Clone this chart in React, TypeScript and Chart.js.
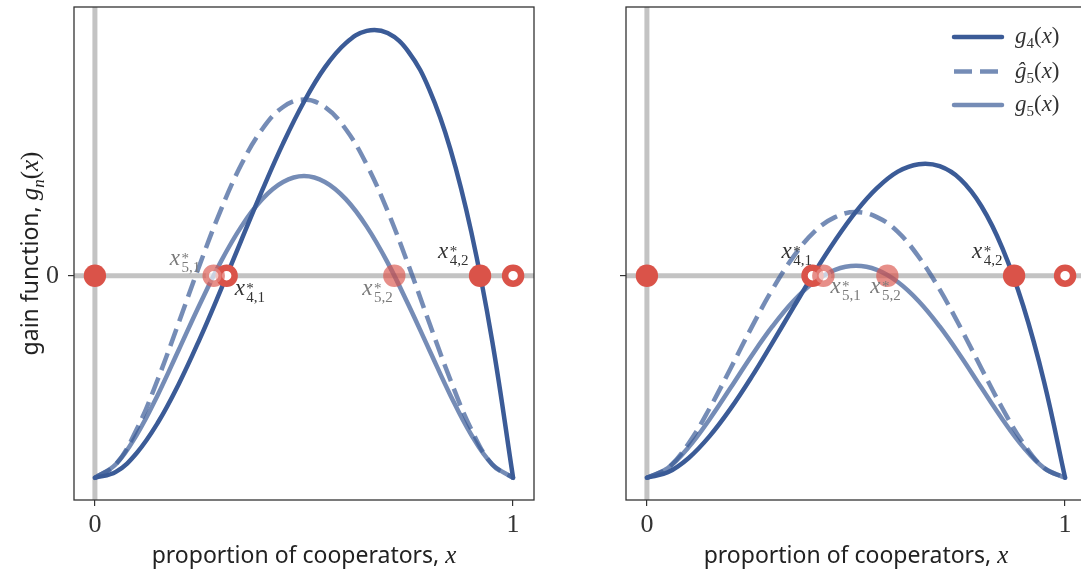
import React, { useEffect, useRef } from "react";
import { Chart, registerables } from "chart.js";

Chart.register(...registerables);

// ---------------- data ----------------
const xGrid = [0, 0.05, 0.1, 0.15, 0.2, 0.25, 0.3, 0.35, 0.4, 0.45, 0.5, 0.55, 0.6, 0.65, 0.7, 0.75, 0.8, 0.85, 0.9, 0.95, 1];

const leftG4 = [-1, -0.971, -0.877, -0.729, -0.538, -0.316, -0.075, 0.175, 0.422, 0.655, 0.861, 1.031, 1.151, 1.212, 1.201, 1.108, 0.92, 0.627, 0.217, -0.322, -1];
const leftG5hat = [-1, -0.934, -0.76, -0.515, -0.235, 0.051, 0.32, 0.55, 0.725, 0.835, 0.872, 0.835, 0.725, 0.55, 0.32, 0.051, -0.235, -0.515, -0.76, -0.934, -1];
const leftG5 = [-1, -0.933, -0.787, -0.591, -0.369, -0.145, 0.065, 0.243, 0.379, 0.464, 0.493, 0.464, 0.379, 0.243, 0.065, -0.145, -0.369, -0.591, -0.787, -0.933, -1];

const rightG4 = [-1, -0.973, -0.902, -0.794, -0.658, -0.502, -0.332, -0.158, 0.014, 0.174, 0.317, 0.433, 0.515, 0.552, 0.542, 0.477, 0.344, 0.137, -0.15, -0.527, -1];
const rightG5hat = [-1, -0.952, -0.829, -0.656, -0.459, -0.257, -0.068, 0.093, 0.217, 0.29, 0.315, 0.29, 0.217, 0.093, -0.068, -0.257, -0.459, -0.656, -0.829, -0.952, -1];
const rightG5 = [-1, -0.952, -0.848, -0.71, -0.555, -0.397, -0.251, -0.126, -0.031, 0.029, 0.049, 0.029, -0.031, -0.126, -0.251, -0.397, -0.555, -0.71, -0.848, -0.952, -1];

// fixed points (all on g = 0)
const leftStable4 = [0, 0.921];
const leftUnstable4 = [0.315, 1];
const leftStable5 = [0.716];
const leftUnstable5 = [0.284];

const rightStable4 = [0, 0.878];
const rightUnstable4 = [0.396, 1];
const rightStable5 = [0.575];
const rightUnstable5 = [0.422];

// fixed-point annotation names (n, index)
const leftLabelNames = ["5,1", "4,1", "5,2", "4,2"];
const rightLabelNames = ["4,1", "5,1", "5,2", "4,2"];

const xTickValues = [0, 1];
const xTickLabels = ["0", "1"];
const yTickValues = [0];
const yTickLabels = ["0"];

const legendNames = [
  { base: "g", sub: "4" },
  { base: "\u011D", sub: "5" },
  { base: "g", sub: "5" },
];

const xTitleWords = "proportion of cooperators, ";
const xTitleVar = "x";
const yTitleWords = "gain function, ";

// ---------------- styles ----------------
const SERIF = '"Liberation Serif", "DejaVu Serif", serif';
const SANS = '"Noto Sans", "DejaVu Sans", sans-serif';
const BLUE = "rgb(59, 91, 151)";
const BLUE_A = "rgba(59, 91, 151, 0.7)";
const RED = "rgb(218, 83, 73)";
const RED_A = "rgba(218, 83, 73, 0.65)";
const WHITE_A = "rgba(255, 255, 255, 0.65)";
const AXIS_GRAY = "#c3c3c3";
const INK = "#333333";
const DASH = [18, 8];

const CANVAS_W = 560;
const CANVAS_H = 574;

type Run = { t: string; font: string; dy?: number };

function runsWidth(ctx: CanvasRenderingContext2D, runs: Run[]) {
  let w = 0;
  for (const r of runs) {
    ctx.font = r.font;
    w += ctx.measureText(r.t).width;
  }
  return w;
}

function drawRuns(ctx: CanvasRenderingContext2D, runs: Run[], x: number, y: number) {
  let cx = x;
  for (const r of runs) {
    ctx.font = r.font;
    ctx.fillText(r.t, cx, y + (r.dy || 0));
    cx += ctx.measureText(r.t).width;
  }
}

function mathFn(base: string, sub: string, size: number, subSize: number, subItalic: boolean): Run[] {
  return [
    { t: base, font: `italic ${size}px ${SERIF}` },
    { t: sub, font: `${subItalic ? "italic " : ""}${subSize}px ${SERIF}`, dy: size * 0.22 },
    { t: "(", font: `${size}px ${SERIF}` },
    { t: "x", font: `italic ${size}px ${SERIF}` },
    { t: ")", font: `${size}px ${SERIF}` },
  ];
}

function drawStarLabel(ctx: CanvasRenderingContext2D, x: number, y: number, sub: string, color: string) {
  ctx.fillStyle = color;
  ctx.textAlign = "left";
  ctx.textBaseline = "alphabetic";
  ctx.font = `italic 23px ${SERIF}`;
  ctx.fillText("x", x, y);
  const w = ctx.measureText("x").width + 1.5;
  ctx.font = `15px ${SERIF}`;
  ctx.fillText("*", x + w, y - 2);
  ctx.fillText(sub, x + w, y + 7);
}

type Panel = {
  g4: number[];
  g5hat: number[];
  g5: number[];
  stable4: number[];
  unstable4: number[];
  stable5: number[];
  unstable5: number[];
  labels: { at: number; sub: string; faded: boolean }[];
  labelOffsets: number[][];
  yTitle: boolean;
  yTickText: boolean;
  legend: boolean;
};

const leftPanel: Panel = {
  g4: leftG4,
  g5hat: leftG5hat,
  g5: leftG5,
  stable4: leftStable4,
  unstable4: leftUnstable4,
  stable5: leftStable5,
  unstable5: leftUnstable5,
  labels: [
    { at: leftUnstable5[0], sub: leftLabelNames[0], faded: true },
    { at: leftUnstable4[0], sub: leftLabelNames[1], faded: false },
    { at: leftStable5[0], sub: leftLabelNames[2], faded: true },
    { at: leftStable4[1], sub: leftLabelNames[3], faded: false },
  ],
  labelOffsets: [[-44, -11], [8, 19], [-32, 19], [-42, -18]],
  yTitle: true,
  yTickText: true,
  legend: false,
};

const rightPanel: Panel = {
  g4: rightG4,
  g5hat: rightG5hat,
  g5: rightG5,
  stable4: rightStable4,
  unstable4: rightUnstable4,
  stable5: rightStable5,
  unstable5: rightUnstable5,
  labels: [
    { at: rightUnstable4[0], sub: rightLabelNames[0], faded: false },
    { at: rightUnstable5[0], sub: rightLabelNames[1], faded: true },
    { at: rightStable5[0], sub: rightLabelNames[2], faded: true },
    { at: rightStable4[1], sub: rightLabelNames[3], faded: false },
  ],
  labelOffsets: [[-31, -18], [7, 17], [-17, 17], [-42, -18]],
  yTitle: false,
  yTickText: false,
  legend: true,
};

function curve(values: number[]) {
  return xGrid.map((x, i) => ({ x, y: values[i] }));
}
function onZero(xs: number[]) {
  return xs.map((x) => ({ x, y: 0 }));
}

function makeConfig(p: Panel): any {
  const decor = {
    id: "decor",
    beforeDatasetsDraw(chart: any) {
      const { ctx, chartArea: a, scales } = chart;
      const x0 = scales.x.getPixelForValue(0);
      const y0 = scales.y.getPixelForValue(0);
      ctx.save();
      ctx.beginPath();
      ctx.rect(a.left, a.top, a.right - a.left, a.bottom - a.top);
      ctx.clip();
      ctx.strokeStyle = AXIS_GRAY;
      ctx.lineWidth = 5;
      ctx.beginPath();
      ctx.moveTo(x0, a.top);
      ctx.lineTo(x0, a.bottom);
      ctx.moveTo(a.left, y0);
      ctx.lineTo(a.right, y0);
      ctx.stroke();
      ctx.restore();
    },
    afterDatasetsDraw(chart: any) {
      const { ctx, chartArea: a, scales } = chart;
      ctx.save();
      const y0 = scales.y.getPixelForValue(0);
      p.labels.forEach((l, i) => {
        const px = scales.x.getPixelForValue(l.at);
        const [dx, dy] = p.labelOffsets[i];
        drawStarLabel(ctx, px + dx, y0 + dy, l.sub, l.faded ? "#7a7a7a" : INK);
      });
      ctx.strokeStyle = INK;
      ctx.lineWidth = 1.3;
      ctx.strokeRect(a.left, a.top, a.right - a.left, a.bottom - a.top);
      if (p.legend) {
        const rowsY = [a.top + 30, a.top + 64.5, a.top + 98];
        legendNames.forEach((n, i) => {
          const y = rowsY[i];
          ctx.beginPath();
          ctx.lineWidth = 4.5;
          if (i === 1) {
            ctx.strokeStyle = BLUE_A;
            ctx.setLineDash(DASH);
            ctx.lineCap = "butt";
          } else {
            ctx.strokeStyle = i === 0 ? BLUE : BLUE_A;
            ctx.setLineDash([]);
            ctx.lineCap = "round";
          }
          ctx.moveTo(a.right - 132, y);
          ctx.lineTo(a.right - 84, y);
          ctx.stroke();
          ctx.setLineDash([]);
          ctx.fillStyle = INK;
          ctx.textAlign = "left";
          ctx.textBaseline = "alphabetic";
          drawRuns(ctx, mathFn(n.base, n.sub, 23, 15, false), a.right - 71, y + 6);
        });
      }
      ctx.restore();
    },
    afterDraw(chart: any) {
      const { ctx, chartArea: a } = chart;
      ctx.save();
      ctx.fillStyle = "#222";
      ctx.textAlign = "left";
      ctx.textBaseline = "alphabetic";
      const xRuns: Run[] = [
        { t: xTitleWords, font: `23px ${SANS}` },
        { t: xTitleVar, font: `italic 25px ${SERIF}` },
      ];
      const cx = (a.left + a.right) / 2;
      drawRuns(ctx, xRuns, cx - runsWidth(ctx, xRuns) / 2, 563);
      if (p.yTitle) {
        const yRuns: Run[] = [{ t: yTitleWords, font: `23px ${SANS}` }, ...mathFn("g", "n", 25, 17, true)];
        const cy = (a.top + a.bottom) / 2;
        ctx.translate(38, cy);
        ctx.rotate(-Math.PI / 2);
        drawRuns(ctx, yRuns, -runsWidth(ctx, yRuns) / 2, 0);
      }
      ctx.restore();
    },
  };

  const lineDs = (label: string, values: number[], color: string, dashed: boolean, order: number) => ({
    type: "line",
    label,
    data: curve(values),
    borderColor: color,
    borderWidth: 4.5,
    borderDash: dashed ? DASH : [],
    borderCapStyle: dashed ? "butt" : "round",
    borderJoinStyle: "round",
    pointRadius: 0,
    tension: 0.4,
    fill: false,
    order,
  });

  const ptDs = (xs: number[], open: boolean, faded: boolean, order: number) => ({
    type: "scatter",
    data: onZero(xs),
    pointRadius: open ? 8 : 11.2,
    pointHoverRadius: open ? 8 : 11.2,
    pointBackgroundColor: open ? (faded ? WHITE_A : "#ffffff") : faded ? RED_A : RED,
    pointBorderColor: faded ? RED_A : RED,
    pointBorderWidth: open ? 6.5 : 0,
    order,
  });

  return {
    type: "line",
    data: {
      datasets: [
        ptDs(p.stable5, false, true, 0),
        ptDs(p.unstable5, true, true, 0),
        ptDs(p.stable4, false, false, 1),
        ptDs(p.unstable4, true, false, 1),
        lineDs("g5", p.g5, BLUE_A, false, 5),
        lineDs("g5hat", p.g5hat, BLUE_A, true, 6),
        lineDs("g4", p.g4, BLUE, false, 7),
      ],
    },
    options: {
      responsive: false,
      maintainAspectRatio: false,
      animation: false,
      devicePixelRatio: 1,
      events: [],
      layout: { autoPadding: false, padding: { top: 7, left: 0, right: 26, bottom: 0 } },
      plugins: { legend: { display: false }, tooltip: { enabled: false } },
      scales: {
        x: {
          type: "linear",
          min: -0.05,
          max: 1.05,
          afterBuildTicks: (s: any) => {
            s.ticks = xTickValues.map((v) => ({ value: v }));
          },
          afterFit: (s: any) => {
            s.height = 74;
            s.paddingLeft = 0;
            s.paddingRight = 0;
          },
          ticks: {
            autoSkip: false,
            maxRotation: 0,
            padding: 4,
            color: INK,
            font: { family: SERIF, size: 26 },
            callback: (_v: any, i: number) => xTickLabels[i],
          },
          grid: { drawOnChartArea: false, drawTicks: true, tickLength: 6, color: INK, lineWidth: 1.2 },
          border: { display: false },
        },
        y: {
          type: "linear",
          min: -1.11,
          max: 1.33,
          afterBuildTicks: (s: any) => {
            s.ticks = yTickValues.map((v) => ({ value: v }));
          },
          afterFit: (s: any) => {
            s.width = 74;
            s.paddingTop = 0;
            s.paddingBottom = 0;
          },
          ticks: {
            autoSkip: false,
            padding: 9,
            color: INK,
            font: { family: SERIF, size: 26 },
            callback: (_v: any, i: number) => (p.yTickText ? yTickLabels[i] : ""),
          },
          grid: { drawOnChartArea: false, drawTicks: true, tickLength: 6, color: INK, lineWidth: 1.2 },
          border: { display: false },
        },
      },
    },
    plugins: [decor],
  };
}

function PanelChart({ panel, left }: { panel: Panel; left: number }) {
  const ref = useRef<HTMLCanvasElement | null>(null);
  useEffect(() => {
    if (!ref.current) return;
    const chart = new Chart(ref.current, makeConfig(panel));
    return () => chart.destroy();
  }, [panel]);
  return (
    <canvas
      ref={ref}
      width={CANVAS_W}
      height={CANVAS_H}
      style={{ position: "absolute", left, top: 0, width: CANVAS_W, height: CANVAS_H, display: "block" }}
    />
  );
}

export default function App() {
  return (
    <div
      style={{
        position: "fixed",
        left: 0,
        top: 0,
        width: 1081,
        height: 574,
        overflow: "hidden",
        background: "#ffffff",
      }}
    >
      <PanelChart panel={leftPanel} left={0} />
      <PanelChart panel={rightPanel} left={552} />
    </div>
  );
}
